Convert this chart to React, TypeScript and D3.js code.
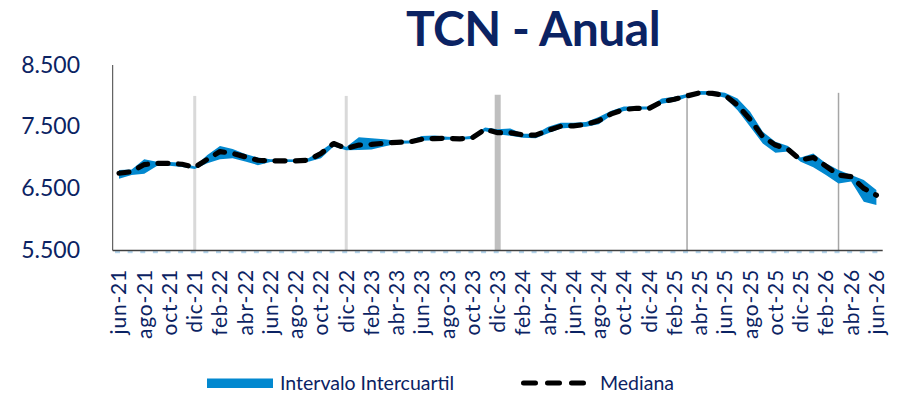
import React from 'react';
import * as d3 from 'd3';

// monthly categories, jun-21 .. jun-26
const months = [
  'jun-21', 'jul-21', 'ago-21', 'sep-21', 'oct-21', 'nov-21', 'dic-21',
  'ene-22', 'feb-22', 'mar-22', 'abr-22', 'may-22', 'jun-22', 'jul-22', 'ago-22', 'sep-22', 'oct-22', 'nov-22', 'dic-22',
  'ene-23', 'feb-23', 'mar-23', 'abr-23', 'may-23', 'jun-23', 'jul-23', 'ago-23', 'sep-23', 'oct-23', 'nov-23', 'dic-23',
  'ene-24', 'feb-24', 'mar-24', 'abr-24', 'may-24', 'jun-24', 'jul-24', 'ago-24', 'sep-24', 'oct-24', 'nov-24', 'dic-24',
  'ene-25', 'feb-25', 'mar-25', 'abr-25', 'may-25', 'jun-25', 'jul-25', 'ago-25', 'sep-25', 'oct-25', 'nov-25', 'dic-25',
  'ene-26', 'feb-26', 'mar-26', 'abr-26', 'may-26', 'jun-26',
];

const median = [
  6750, 6775, 6890, 6910, 6910, 6895, 6845,
  6975, 7100, 7070, 7015, 6960, 6950, 6950, 6950, 6960, 7070, 7230, 7150,
  7205, 7215, 7235, 7250, 7255, 7300, 7310, 7315, 7305, 7325, 7460, 7405,
  7405, 7370, 7365, 7445, 7510, 7515, 7540, 7600, 7710, 7780, 7800, 7800,
  7905, 7945, 8000, 8050, 8040, 8010, 7850, 7620, 7340, 7205, 7135, 6965,
  7005, 6865, 6720, 6695, 6505, 6395,
];

const lowerQ = [
  6660, 6720, 6740, 6865, 6870, 6850, 6820,
  6910, 6975, 6990, 6940, 6880, 6930, 6930, 6930, 6935, 6990, 7180, 7120,
  7125, 7135, 7180, 7225, 7230, 7275, 7285, 7290, 7290, 7305, 7430, 7380,
  7355, 7325, 7315, 7395, 7475, 7490, 7500, 7540, 7685, 7755, 7780, 7780,
  7875, 7905, 7980, 8020, 8020, 7970, 7770, 7500, 7230, 7080, 7100, 6935,
  6845, 6720, 6585, 6615, 6290, 6235,
];

const upperQ = [
  6800, 6810, 6975, 6935, 6930, 6920, 6860,
  7045, 7190, 7140, 7060, 7005, 6975, 6975, 6970, 6990, 7115, 7260, 7175,
  7330, 7315, 7300, 7275, 7280, 7350, 7360, 7340, 7330, 7355, 7490, 7460,
  7475, 7390, 7390, 7500, 7565, 7565, 7580, 7660, 7760, 7830, 7830, 7830,
  7960, 7985, 8030, 8080, 8075, 8050, 7960, 7745, 7420, 7260, 7190, 7005,
  7070, 6910, 6800, 6720, 6640, 6480,
];

const yTicks = [5500, 6500, 7500, 8500];
const markerMonths = ['dic-21', 'dic-22', 'dic-23', 'mar-25', 'mar-26'];
const markerTops = [8000, 8000, 8020, 8050, 8050];

const navy = '#0b2363';
const markerStyle = [
  { color: '#d9d9d9', width: 3 },
  { color: '#d9d9d9', width: 3 },
  { color: '#bfbfbf', width: 6 },
  { color: '#a6a6a6', width: 1.5 },
  { color: '#a6a6a6', width: 1.5 },
];

export default function App() {
  const x = d3.scaleBand<string>().domain(months).range([112.7, 882.7]);
  const cx = (m: string) => (x(m) as number) + x.bandwidth() / 2;
  const y = d3.scaleLinear().domain([5500, 8500]).range([250.5, 65]);

  const fmt = d3.formatLocale({
    decimal: ',', thousands: '.', grouping: [3], currency: ['$', ''],
  }).format(',.0f');

  const band = d3.area<number>()
    .x((_, i) => cx(months[i]))
    .y0((_, i) => y(lowerQ[i]))
    .y1(d => y(d));

  const medLine = d3.line<number>()
    .x((_, i) => cx(months[i]))
    .y(d => y(d));

  const font = 'Lato, "Open Sans", sans-serif';
  const [x0, x1] = x.range();

  return (
    <svg width={910} height={401} style={{ position: 'absolute', left: 0, top: 0, background: '#fff' }}>
      <text x={533} y={46} textAnchor="middle" fontFamily={font} fontWeight={700}
        fontSize={48} letterSpacing={-0.5} fill={navy}>TCN - Anual</text>

      {/* y labels */}
      {yTicks.map(t => (
        <text key={t} x={80} y={y(t) - 1.5} textAnchor="end" dominantBaseline="central"
          fontFamily={font} fontSize={23} fill={navy}>{fmt(t)}</text>
      ))}

      {/* vertical reference lines */}
      {markerMonths.map((m, i) => (
        <line key={m} x1={cx(m)} x2={cx(m)} y1={y(markerTops[i])} y2={y(5500)}
          stroke={markerStyle[i].color} strokeWidth={markerStyle[i].width} />
      ))}

      {/* faint monthly marks under the axis */}
      {months.map(m => (
        <rect key={m} x={cx(m) - 4} y={251} width={5} height={2.2} fill="#b3d3ea" />
      ))}

      <path d={band(upperQ) as string} fill="#0288cf" />
      <path d={medLine(median) as string} fill="none" stroke="#000" strokeWidth={5.2}
        strokeLinecap="round" strokeLinejoin="round" strokeDasharray="10 10.5" />

      {/* axes */}
      <line x1={x0} x2={x0} y1={y(8500)} y2={y(5500)} stroke="#404040" strokeWidth={1} />
      <line x1={x0} x2={x1} y1={y(5500)} y2={y(5500)} stroke="#404040" strokeWidth={1.3} />

      {months.filter((_, i) => i % 2 === 0).map(m => (
        <text key={m} transform={`translate(${cx(m)},269) rotate(-90)`} textAnchor="end"
          dy="0.35em" fontFamily={font} fontSize={21} letterSpacing={0.8} fill={navy}>{m}</text>
      ))}

      {/* legend */}
      <rect x={207} y={378.5} width={66} height={9.5} fill="#0288cf" />
      <text x={280} y={390} fontFamily={font} fontSize={19.5} fill={navy}>Intervalo Intercuartil</text>
      <line x1={523.5} x2={595.5} y1={383} y2={383} stroke="#000" strokeWidth={5}
        strokeLinecap="round" strokeDasharray="12 12" />
      <text x={600} y={390} fontFamily={font} fontSize={19.5} fill={navy}>Mediana</text>
    </svg>
  );
}
